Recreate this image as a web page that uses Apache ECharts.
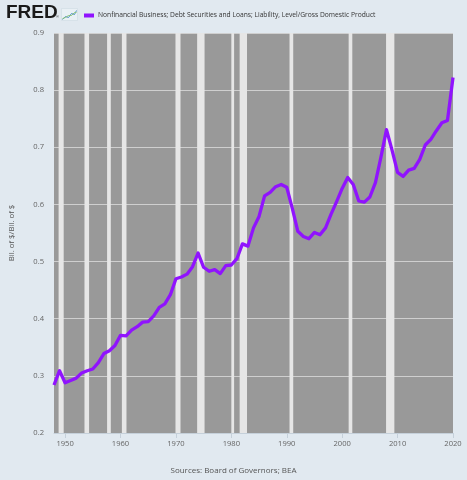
<!DOCTYPE html>
<html>
<head>
<meta charset="utf-8">
<script src="https://cdn.jsdelivr.net/npm/echarts@6/dist/echarts.min.js"></script>
<style>
html,body{margin:0;padding:0;background:#e1e9f0;}
#chart{width:467px;height:480px;}
</style>
</head>
<body>
<div id="chart"></div>
<script>
const seriesName = 'Nonfinancial Business; Debt Securities and Loans; Liability, Level/Gross Domestic Product';
const years = [1948,1949,1950,1951,1952,1953,1954,1955,1956,1957,1958,1959,
  1960,1961,1962,1963,1964,1965,1966,1967,1968,1969,
  1970,1971,1972,1973,1974,1975,1976,1977,1978,1979,
  1980,1981,1982,1983,1984,1985,1986,1987,1988,1989,
  1990,1991,1992,1993,1994,1995,1996,1997,1998,1999,
  2000,2001,2002,2003,2004,2005,2006,2007,2008,2009,
  2010,2011,2012,2013,2014,2015,2016,2017,2018,2019,2020];
const values = [0.284,0.309,0.288,0.292,0.296,0.305,0.309,0.312,0.323,0.339,0.344,0.353,
  0.371,0.370,0.380,0.386,0.394,0.395,0.405,0.420,0.426,0.442,
  0.470,0.473,0.478,0.491,0.515,0.490,0.483,0.486,0.479,0.493,
  0.494,0.505,0.531,0.527,0.559,0.579,0.615,0.621,0.631,0.635,
  0.630,0.593,0.553,0.544,0.540,0.551,0.547,0.559,0.583,0.605,
  0.628,0.647,0.635,0.606,0.604,0.613,0.638,0.683,0.731,0.695,
  0.656,0.649,0.660,0.663,0.679,0.704,0.714,0.729,0.743,0.747,0.822];
const recessionStarts = [1948.83,1953.50,1957.58,1960.25,1969.92,1973.83,1980.00,1981.50,1990.50,2001.17,2007.92];
const recessionEnds   = [1949.75,1954.33,1958.25,1961.08,1970.83,1975.17,1980.50,1982.83,1991.17,2001.83,2009.42];
const xTickYears = [1950,1960,1970,1980,1990,2000,2010,2020];
const yMin = 0.2, yMax = 0.9, yStep = 0.1;
const yAxisName = 'Bil. of $/Bil. of $';
const sourceText = 'Sources: Board of Governors; BEA';

const chart = echarts.init(document.getElementById('chart'), null, {renderer:'canvas'});
const font = 'Open Sans';
chart.setOption({
  backgroundColor:'#e1e9f0',
  animation:false,
  textStyle:{fontFamily:font},
  grid:{left:52, right:14, top:33, bottom:47, show:true, backgroundColor:'#999999', borderWidth:0},
  legend:{
    show:true, left:79, top:7, itemWidth:10, itemHeight:4, itemGap:4,
    icon:'rect',
    textStyle:{fontSize:6.7, color:'#333', fontFamily:font, padding:[0,0,0,-1]},
    data:[seriesName]
  },
  graphic:[
    {type:'text', left:6, top:3, style:{text:'FRED', font:'900 19px "Liberation Sans", Arial, sans-serif', fill:'#1a1a1a'}},
    {type:'text', left:56, top:15, style:{text:'®', font:'4px sans-serif', fill:'#333'}},
    {type:'group', left:60, top:8, children:[
      {type:'rect', shape:{x:0,y:0,width:16,height:12}, style:{fill:'#e9f0f5', stroke:'#c9d6e0', lineWidth:0.5}},
      {type:'polyline', shape:{points:[[1,11],[4,8],[7,9],[10,5],[13,6],[15,2]]}, style:{stroke:'#4f8fc8', lineWidth:1, fill:null}},
      {type:'polyline', shape:{points:[[1,10],[4,9],[7,7],[10,7],[13,4],[15,4]]}, style:{stroke:'#8ac37a', lineWidth:1, fill:null}}
    ]},
    {type:'text', left:'center', top:467, style:{text:sourceText, font:'8px "Open Sans"', fill:'#555'}}
  ],
  xAxis:{
    type:'value', min:years[0], max:years[years.length-1],
    splitLine:{show:false},
    axisLine:{show:true, onZero:false, lineStyle:{color:'#c5d0da', width:1}},
    axisTick:{show:true, customValues:xTickYears, length:5, lineStyle:{color:'#c5d0da'}},
    axisLabel:{customValues:xTickYears, color:'#666', fontSize:7.6, margin:7, formatter:v=>String(v)}
  },
  yAxis:{
    type:'value', min:yMin, max:yMax, interval:yStep,
    name:yAxisName, nameLocation:'middle', nameGap:38, nameRotate:90,
    nameTextStyle:{color:'#555', fontSize:7.8},
    axisLine:{show:false}, axisTick:{show:false},
    axisLabel:{color:'#666', fontSize:7.6, margin:10, formatter:v=>v.toFixed(1)},
    splitLine:{show:true, lineStyle:{color:'#cfcfcf', width:1}}
  },
  series:[{
    name:seriesName, type:'line',
    data:years.map((y,i)=>[y, values[i]]),
    showSymbol:false, symbol:'none',
    lineStyle:{color:'#9013fe', width:3.3, join:'round'},
    itemStyle:{color:'#9013fe'},
    z:5,
    markArea:{
      silent:true,
      itemStyle:{color:'#e6e6e6', opacity:1},
      data:recessionStarts.map((s,i)=>[{xAxis:s},{xAxis:recessionEnds[i]}])
    }
  }]
});
</script>
</body>
</html>
